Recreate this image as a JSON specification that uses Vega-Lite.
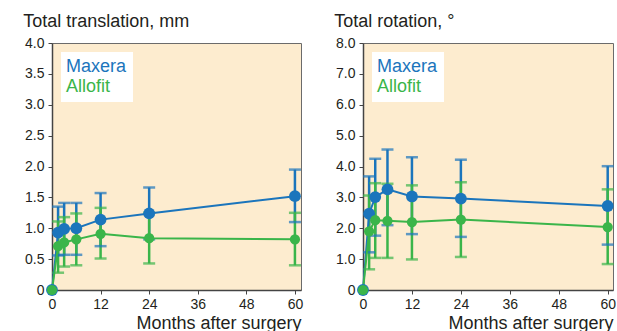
{
  "$schema": "https://vega.github.io/schema/vega-lite/v6.json",
  "padding": {"left": 22, "top": 12, "right": 0, "bottom": 0},
  "background": "white",
  "config": {
    "font": "Liberation Sans",
    "view": {"fill": "#fdeccf", "stroke": "#6b6b6b", "strokeWidth": 1},
    "axis": {"grid": false, "domainColor": "#444", "domainWidth": 1.5, "tickColor": "#444", "tickSize": 4, "labelFont": "Liberation Sans", "labelFontSize": 14, "labelColor": "#231f20", "titleFont": "Liberation Sans", "titleColor": "#231f20", "titleFontWeight": "normal", "titleFontSize": 18, "labelOverlap": false},
    "title": {"font": "Liberation Sans", "fontSize": 18, "fontWeight": "normal", "color": "#231f20", "anchor": "start", "frame": "bounds", "offset": 5},
    "legend": {"orient": "top-left", "offset": 8.5, "title": null, "fillColor": "white", "padding": 6, "labelFont": "Liberation Sans", "labelFontSize": 18, "symbolSize": 0, "symbolOpacity": 0, "symbolStrokeWidth": 0, "labelOffset": -19, "rowPadding": 2}
  },
  "datasets": {
    "d": [
      {"panel": "T", "series": "Maxera", "month": 0, "mean": 0, "lo": null, "hi": null},
      {"panel": "T", "series": "Maxera", "month": 1.5, "mean": 0.93, "lo": 0.56, "hi": 1.35},
      {"panel": "T", "series": "Maxera", "month": 3, "mean": 0.99, "lo": 0.57, "hi": 1.41},
      {"panel": "T", "series": "Maxera", "month": 6, "mean": 1.0, "lo": 0.57, "hi": 1.41},
      {"panel": "T", "series": "Maxera", "month": 12, "mean": 1.14, "lo": 0.71, "hi": 1.57},
      {"panel": "T", "series": "Maxera", "month": 24, "mean": 1.24, "lo": 0.82, "hi": 1.66},
      {"panel": "T", "series": "Maxera", "month": 60, "mean": 1.52, "lo": 1.1, "hi": 1.95},
      {"panel": "T", "series": "Allofit", "month": 0, "mean": 0, "lo": null, "hi": null},
      {"panel": "T", "series": "Allofit", "month": 1.5, "mean": 0.71, "lo": 0.28, "hi": 1.11},
      {"panel": "T", "series": "Allofit", "month": 3, "mean": 0.77, "lo": 0.38, "hi": 1.18},
      {"panel": "T", "series": "Allofit", "month": 6, "mean": 0.82, "lo": 0.4, "hi": 1.24},
      {"panel": "T", "series": "Allofit", "month": 12, "mean": 0.91, "lo": 0.51, "hi": 1.33},
      {"panel": "T", "series": "Allofit", "month": 24, "mean": 0.84, "lo": 0.43, "hi": 1.25},
      {"panel": "T", "series": "Allofit", "month": 60, "mean": 0.82, "lo": 0.4, "hi": 1.25},
      {"panel": "R", "series": "Maxera", "month": 0, "mean": 0, "lo": null, "hi": null},
      {"panel": "R", "series": "Maxera", "month": 1.5, "mean": 2.47, "lo": 1.22, "hi": 3.68},
      {"panel": "R", "series": "Maxera", "month": 3, "mean": 3.01, "lo": 1.76, "hi": 4.25},
      {"panel": "R", "series": "Maxera", "month": 6, "mean": 3.26, "lo": 2.1, "hi": 4.55},
      {"panel": "R", "series": "Maxera", "month": 12, "mean": 3.03, "lo": 1.81, "hi": 4.3},
      {"panel": "R", "series": "Maxera", "month": 24, "mean": 2.96, "lo": 1.72, "hi": 4.22},
      {"panel": "R", "series": "Maxera", "month": 60, "mean": 2.72, "lo": 1.47, "hi": 4.01},
      {"panel": "R", "series": "Allofit", "month": 0, "mean": 0, "lo": null, "hi": null},
      {"panel": "R", "series": "Allofit", "month": 1.5, "mean": 1.9, "lo": 0.67, "hi": 3.06},
      {"panel": "R", "series": "Allofit", "month": 3, "mean": 2.26, "lo": 1.04, "hi": 3.46},
      {"panel": "R", "series": "Allofit", "month": 6, "mean": 2.24, "lo": 1.04, "hi": 3.44},
      {"panel": "R", "series": "Allofit", "month": 12, "mean": 2.2, "lo": 0.99, "hi": 3.39},
      {"panel": "R", "series": "Allofit", "month": 24, "mean": 2.28, "lo": 1.07, "hi": 3.49},
      {"panel": "R", "series": "Allofit", "month": 60, "mean": 2.04, "lo": 0.84, "hi": 3.26}
    ]
  },
  "spacing": 29,
  "resolve": {"scale": {"color": "independent", "size": "independent", "x": "independent", "y": "independent"}, "legend": {"color": "independent"}},
  "hconcat": [
    {
      "title": {"text": "Total translation, mm"},
      "width": 249,
      "height": 247,
      "data": {"name": "d"},
      "transform": [{"filter": "datum.panel === 'T'"}],
      "encoding": {
        "x": {"field": "month", "type": "quantitative", "scale": {"domain": [0, 61.5], "nice": false}, "axis": {"values": [0, 12, 24, 36, 48, 60], "title": "Months after surgery", "titleAnchor": "end", "titlePadding": 3, "labelPadding": 3, "labelFlush": false}},
        "color": {"field": "series", "type": "nominal", "scale": {"domain": ["Maxera", "Allofit"], "range": ["#1b75bc", "#3ab54a"]}, "legend": {"encode": {"labels": {"update": {"fill": {"signal": "datum.value === 'Maxera' ? '#1b75bc' : '#3ab54a'"}}}}}}
      },
      "layer": [
        {
          "transform": [{"filter": "isValid(datum.lo)"}],
          "mark": {"type": "rule", "strokeWidth": 2.5},
          "encoding": {"y": {"field": "lo", "type": "quantitative", "scale": {"domain": [0, 4], "nice": false}, "axis": {"values": [0, 0.5, 1, 1.5, 2, 2.5, 3, 3.5, 4], "title": null, "labelOverlap": false, "labelExpr": "datum.value === 0 ? '0' : format(datum.value, '.1f')", "labelPadding": 4, "minExtent": 28.7, "maxExtent": 28.7}}, "y2": {"field": "hi"}}
        },
        {
          "transform": [{"filter": "isValid(datum.lo)"}],
          "mark": {"type": "tick", "orient": "horizontal", "size": 12, "thickness": 2.5},
          "encoding": {"y": {"field": "lo", "type": "quantitative", "axis": {"values": [0, 0.5, 1, 1.5, 2, 2.5, 3, 3.5, 4], "title": null, "labelOverlap": false, "labelExpr": "datum.value === 0 ? '0' : format(datum.value, '.1f')", "labelPadding": 4, "minExtent": 28.7, "maxExtent": 28.7}}}
        },
        {
          "transform": [{"filter": "isValid(datum.lo)"}],
          "mark": {"type": "tick", "orient": "horizontal", "size": 12, "thickness": 2.5},
          "encoding": {"y": {"field": "hi", "type": "quantitative", "axis": {"values": [0, 0.5, 1, 1.5, 2, 2.5, 3, 3.5, 4], "title": null, "labelOverlap": false, "labelExpr": "datum.value === 0 ? '0' : format(datum.value, '.1f')", "labelPadding": 4, "minExtent": 28.7, "maxExtent": 28.7}}}
        },
        {
          "mark": {"type": "line", "strokeWidth": 2},
          "encoding": {"y": {"field": "mean", "type": "quantitative", "axis": {"values": [0, 0.5, 1, 1.5, 2, 2.5, 3, 3.5, 4], "title": null, "labelOverlap": false, "labelExpr": "datum.value === 0 ? '0' : format(datum.value, '.1f')", "labelPadding": 4, "minExtent": 28.7, "maxExtent": 28.7}}}
        },
        {
          "mark": {"type": "point", "filled": true, "opacity": 1},
          "encoding": {
            "y": {"field": "mean", "type": "quantitative", "axis": {"values": [0, 0.5, 1, 1.5, 2, 2.5, 3, 3.5, 4], "title": null, "labelOverlap": false, "labelExpr": "datum.value === 0 ? '0' : format(datum.value, '.1f')", "labelPadding": 4, "minExtent": 28.7, "maxExtent": 28.7}},
            "size": {"field": "series", "type": "nominal", "scale": {"domain": ["Maxera", "Allofit"], "range": [140, 105]}, "legend": null}
          }
        }
      ]
    },
    {
      "title": {"text": "Total rotation, °"},
      "width": 250,
      "height": 247,
      "data": {"name": "d"},
      "transform": [{"filter": "datum.panel === 'R'"}],
      "encoding": {
        "x": {"field": "month", "type": "quantitative", "scale": {"domain": [0, 61.3], "nice": false}, "axis": {"values": [0, 12, 24, 36, 48, 60], "title": "Months after surgery", "titleAnchor": "end", "titlePadding": 3, "labelPadding": 3, "labelFlush": false}},
        "color": {"field": "series", "type": "nominal", "scale": {"domain": ["Maxera", "Allofit"], "range": ["#1b75bc", "#3ab54a"]}, "legend": {"encode": {"labels": {"update": {"fill": {"signal": "datum.value === 'Maxera' ? '#1b75bc' : '#3ab54a'"}}}}}}
      },
      "layer": [
        {
          "transform": [{"filter": "isValid(datum.lo)"}],
          "mark": {"type": "rule", "strokeWidth": 2.5},
          "encoding": {"y": {"field": "lo", "type": "quantitative", "scale": {"domain": [0, 8], "nice": false}, "axis": {"values": [0, 1, 2, 3, 4, 5, 6, 7, 8], "title": null, "labelOverlap": false, "labelExpr": "datum.value === 0 ? '0' : format(datum.value, '.1f')", "labelPadding": 4, "minExtent": 28.7, "maxExtent": 28.7}}, "y2": {"field": "hi"}}
        },
        {
          "transform": [{"filter": "isValid(datum.lo)"}],
          "mark": {"type": "tick", "orient": "horizontal", "size": 12, "thickness": 2.5},
          "encoding": {"y": {"field": "lo", "type": "quantitative", "axis": {"values": [0, 1, 2, 3, 4, 5, 6, 7, 8], "title": null, "labelOverlap": false, "labelExpr": "datum.value === 0 ? '0' : format(datum.value, '.1f')", "labelPadding": 4, "minExtent": 28.7, "maxExtent": 28.7}}}
        },
        {
          "transform": [{"filter": "isValid(datum.lo)"}],
          "mark": {"type": "tick", "orient": "horizontal", "size": 12, "thickness": 2.5},
          "encoding": {"y": {"field": "hi", "type": "quantitative", "axis": {"values": [0, 1, 2, 3, 4, 5, 6, 7, 8], "title": null, "labelOverlap": false, "labelExpr": "datum.value === 0 ? '0' : format(datum.value, '.1f')", "labelPadding": 4, "minExtent": 28.7, "maxExtent": 28.7}}}
        },
        {
          "mark": {"type": "line", "strokeWidth": 2},
          "encoding": {"y": {"field": "mean", "type": "quantitative", "axis": {"values": [0, 1, 2, 3, 4, 5, 6, 7, 8], "title": null, "labelOverlap": false, "labelExpr": "datum.value === 0 ? '0' : format(datum.value, '.1f')", "labelPadding": 4, "minExtent": 28.7, "maxExtent": 28.7}}}
        },
        {
          "mark": {"type": "point", "filled": true, "opacity": 1},
          "encoding": {
            "y": {"field": "mean", "type": "quantitative", "axis": {"values": [0, 1, 2, 3, 4, 5, 6, 7, 8], "title": null, "labelOverlap": false, "labelExpr": "datum.value === 0 ? '0' : format(datum.value, '.1f')", "labelPadding": 4, "minExtent": 28.7, "maxExtent": 28.7}},
            "size": {"field": "series", "type": "nominal", "scale": {"domain": ["Maxera", "Allofit"], "range": [140, 105]}, "legend": null}
          }
        }
      ]
    }
  ]
}
